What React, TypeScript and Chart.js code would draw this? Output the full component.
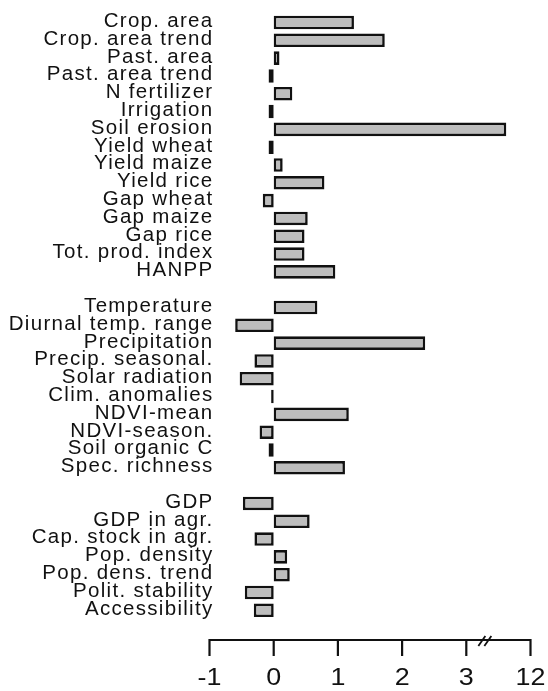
import React, { useEffect, useRef } from "react";
import { Chart, registerables } from "chart.js";

Chart.register(...registerables);

// Group 1: land use / agriculture
const landLabels = [
  "Crop. area", "Crop. area trend", "Past. area", "Past. area trend", "N fertilizer",
  "Irrigation", "Soil erosion", "Yield wheat", "Yield maize", "Yield rice",
  "Gap wheat", "Gap maize", "Gap rice", "Tot. prod. index", "HANPP",
];
const landValues = [1.25, 1.73, 0.09, -0.08, 0.29, -0.08, 7.6, -0.08, 0.14, 0.79, -0.17, 0.53, 0.48, 0.48, 0.96];

// Group 2: climate / environment
const climLabels = [
  "Temperature", "Diurnal temp. range", "Precipitation", "Precip. seasonal.", "Solar radiation",
  "Clim. anomalies", "NDVI-mean", "NDVI-season.", "Soil organic C", "Spec. richness",
];
const climValues = [0.68, -0.6, 2.36, -0.3, -0.53, -0.04, 1.17, -0.22, -0.08, 1.11];

// Group 3: socio-economic
const socioLabels = [
  "GDP", "GDP in agr.", "Cap. stock in agr.", "Pop. density", "Pop. dens. trend",
  "Polit. stability", "Accessibility",
];
const socioValues = [-0.48, 0.56, -0.3, 0.21, 0.25, -0.45, -0.31];

// Axis ticks (axis is broken between 3 and 12)
const xTickValues = [-1, 0, 1, 2, 3, 12];
const axisBreak = 3.25;
const axisTopValue = 12;
const axisTopPosition = 4;

function toAxis(v: number | null): number | null {
  if (v === null) return null;
  if (v <= axisBreak) return v;
  return axisBreak + ((v - axisBreak) * (axisTopPosition - axisBreak)) / (axisTopValue - axisBreak);
}

const allLabels: string[] = [...landLabels, "", ...climLabels, "", ...socioLabels];
const allValues: (number | null)[] = [...landValues, null, ...climValues, null, ...socioValues];

const FONT = '"Liberation Sans", Arial, Helvetica, sans-serif';

const overlayPlugin = {
  id: "rOverlay",
  afterDraw(chart: any) {
    const ctx: CanvasRenderingContext2D = chart.ctx;
    const xs = chart.scales.x;
    const ys = chart.scales.y;
    ctx.save();
    // y category labels
    ctx.fillStyle = "#111";
    ctx.font = `20.5px ${FONT}`;
    (ctx as any).letterSpacing = "1.3px";
    ctx.textAlign = "right";
    ctx.textBaseline = "alphabetic";
    allLabels.forEach((lab, i) => {
      if (!lab) return;
      const y = ys.getPixelForValue(i);
      ctx.fillText(lab, 213.5, y + 4.4);
    });
    (ctx as any).letterSpacing = "0px";

    // bottom axis (offset below plot like R)
    const axisY = 640;
    const x0 = xs.getPixelForValue(-1);
    const x1 = xs.getPixelForValue(axisTopPosition);
    ctx.strokeStyle = "#111";
    ctx.lineWidth = 2.2;
    ctx.beginPath();
    ctx.moveTo(x0, axisY);
    ctx.lineTo(x1, axisY);
    ctx.stroke();
    xTickValues.forEach((v) => {
      const x = xs.getPixelForValue(toAxis(v) as number);
      ctx.beginPath();
      ctx.moveTo(x, axisY - 1);
      ctx.lineTo(x, axisY + 16);
      ctx.stroke();
      ctx.save();
      ctx.translate(x, 685);
      ctx.scale(1.12, 1);
      ctx.font = `24px ${FONT}`;
      ctx.textAlign = "center";
      ctx.fillStyle = "#111";
      ctx.fillText(String(v), 0, 0);
      ctx.restore();
    });
    // break mark
    const xb = xs.getPixelForValue(axisBreak);
    ctx.lineWidth = 1.8;
    ctx.beginPath();
    ctx.moveTo(xb - 4, axisY + 6);
    ctx.lineTo(xb + 3, axisY - 4);
    ctx.moveTo(xb + 2, axisY + 6);
    ctx.lineTo(xb + 9, axisY - 4);
    ctx.stroke();
    ctx.restore();
  },
};

export default function App() {
  const ref = useRef<HTMLCanvasElement | null>(null);
  useEffect(() => {
    if (!ref.current) return;
    const chart = new Chart(ref.current, {
      type: "bar",
      data: {
        labels: allLabels,
        datasets: [
          {
            data: allValues.map(toAxis),
            backgroundColor: "#bdbdbd",
            borderColor: "#111",
            borderWidth: 2.6,
            borderSkipped: false,
            barPercentage: 0.76,
            categoryPercentage: 1,
          },
        ],
      },
      options: {
        indexAxis: "y",
        responsive: false,
        animation: false,
        devicePixelRatio: 1,
        layout: { padding: { left: 209.5, right: 17.5, top: 13.6, bottom: 71.8 } },
        scales: {
          x: { type: "linear", min: -1, max: axisTopPosition, display: false },
          y: { display: false },
        },
        plugins: { legend: { display: false }, tooltip: { enabled: false } },
      },
      plugins: [overlayPlugin],
    } as any);
    return () => chart.destroy();
  }, []);
  return (
    <div style={{ position: "absolute", left: 0, top: 0, width: 548, height: 691, background: "#fff" }}>
      <canvas ref={ref} width={548} height={691} style={{ display: "block" }} />
    </div>
  );
}
